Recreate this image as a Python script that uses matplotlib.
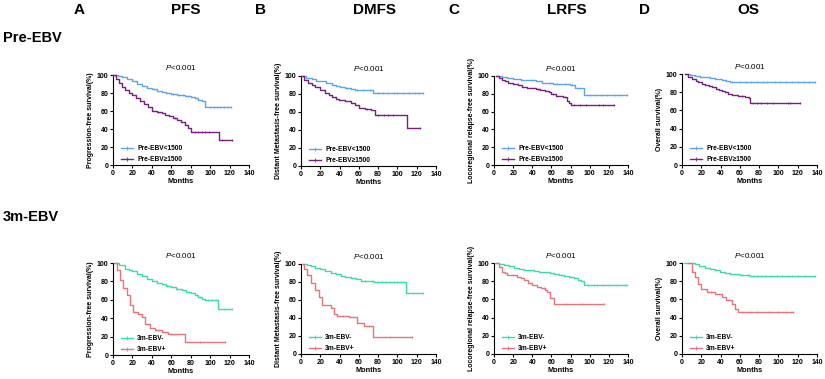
import numpy as np
import matplotlib
matplotlib.use("Agg")
import matplotlib.pyplot as plt
from matplotlib.lines import Line2D

plt.rcParams['font.family'] = ['Liberation Sans', 'DejaVu Sans']
plt.rcParams['mathtext.fontset'] = 'custom'
plt.rcParams['mathtext.it'] = 'Liberation Sans:italic'
plt.rcParams['mathtext.rm'] = 'Liberation Sans'

# ---- data (months, survival %) ----
# Pre-EBV, PFS
pfs_lo_t = [0, 5, 9, 14, 20, 25, 30, 35, 40, 45, 50, 55, 60, 66, 74, 80, 84, 88, 92, 95, 121]
pfs_lo_s = [100, 99, 97.5, 95.5, 93, 90.5, 88, 86, 84, 82.5, 81, 80, 79, 78, 77, 75.5, 74, 72.5, 71, 65, 65]
pfs_lo_c = [42, 55, 62, 68, 72, 77, 86, 100, 104, 107, 110, 114, 118, 121]
pfs_hi_t = [0, 3, 6, 9, 12, 16, 20, 24, 28, 32, 36, 40, 45, 50, 54, 58, 62, 66, 70, 74, 77, 80, 109, 122]
pfs_hi_s = [100, 96, 91, 87, 83, 80, 78, 74, 71, 68, 64, 60, 59, 58, 56, 54, 52, 50, 48, 44, 41, 37, 28, 28]
pfs_hi_c = [46, 64, 84, 88, 92, 95, 99, 112, 122]
# Pre-EBV, DMFS
dm_lo_t = [0, 5, 11, 16, 20, 26, 32, 36, 40, 46, 52, 56, 60, 70, 75, 127]
dm_lo_s = [100, 98, 96.5, 95, 94, 92, 90, 89, 88, 87, 85.5, 85, 84.5, 84, 81.5, 81.5]
dm_lo_c = [48, 58, 64, 72, 80, 85, 90, 96, 100, 106, 112, 118, 122, 127]
dm_hi_t = [0, 3, 7.6, 11, 14.5, 20, 25, 29, 32, 36, 39, 46, 52, 56, 60, 66, 73, 77, 109.6, 123]
dm_hi_s = [100, 96, 92.5, 90, 88, 84.5, 81.5, 79, 77, 75, 73, 72, 70, 68, 65, 63, 62, 57, 42.5, 42.5]
dm_hi_c = [68, 80, 86, 90, 95, 123]
# Pre-EBV, LRFS
lr_lo_t = [2, 8, 14, 20, 28, 36, 44, 50, 56, 62, 70, 79, 84.6, 91.6, 94.4, 139]
lr_lo_s = [100, 98.5, 97.5, 97, 96, 95, 94, 92.5, 92, 91.5, 91, 90, 87, 86, 78.5, 78.5]
lr_lo_c = [40, 58, 66, 74, 82, 100, 106, 112, 118, 126, 132, 139]
lr_hi_t = [2, 5, 8, 12, 15, 20, 25, 29, 34, 39, 44, 48, 53, 57, 60, 65, 69, 72, 76, 78, 80.5, 125]
lr_hi_s = [100, 98, 96, 94, 92.5, 90.5, 89.5, 88, 87, 86, 85, 84, 83.3, 81.5, 79.5, 78, 77, 76, 71.5, 70, 67.5, 67.5]
lr_hi_c = [46, 62, 74, 84, 90, 96, 110, 114, 125]
# Pre-EBV, OS
os_lo_t = [3, 8, 13.5, 19, 24, 29, 34, 41, 46, 50, 57, 138]
os_lo_s = [100, 99, 98, 97, 96.3, 95.5, 94.4, 93, 92, 91.5, 90.7, 90.7]
os_lo_c = [52, 60, 66, 72, 78, 84, 88, 96, 102, 108, 114, 120, 126, 132, 138]
os_hi_t = [3, 6, 10, 14, 17, 21, 24, 28, 31, 35, 38, 41, 45, 48, 52, 55, 58, 65, 69, 71, 122]
os_hi_s = [100, 97, 94, 92, 91, 89, 87.5, 86.5, 85.5, 84, 82.5, 81.5, 80, 78.5, 77, 76.5, 76, 75, 74, 68.5, 68.5]
os_hi_c = [62, 74, 78, 82, 88, 94, 110, 112, 122]

# 3m-EBV, PFS
pfs_neg_t = [2, 6, 12, 16, 20, 25, 29.5, 35, 40, 45, 50, 55, 60, 65, 70.7, 75, 80, 84, 88, 92, 95, 108.4, 122]
pfs_neg_s = [100, 98, 94, 92.5, 91, 88.5, 86, 83, 80, 78.5, 77, 75, 73.5, 72, 70.6, 69, 67, 65, 63, 61, 59.5, 49.5, 49.5]
pfs_neg_c = [56, 66, 78, 86, 90, 98, 102, 106, 114, 122]
pfs_pos_t = [1, 4, 7, 10.6, 14, 17.5, 21, 26, 29.5, 33, 38, 43, 50, 57, 74, 115]
pfs_pos_s = [100, 92.6, 81.6, 72.4, 65, 54, 46.7, 45, 41, 33.8, 29.4, 27, 25, 23, 14.5, 14.5]
pfs_pos_c = [46, 60, 90, 115]
# 3m-EBV, DMFS
dm_neg_t = [2, 6, 10, 15, 20, 25, 31, 36, 41, 46, 51.5, 57, 62, 72, 76, 108.5, 126]
dm_neg_s = [100, 99, 97.8, 96, 94, 92, 90.4, 88.5, 87, 86, 84.5, 83, 81.5, 80.8, 79.7, 68.3, 68.3]
dm_neg_c = [66, 74, 80, 84, 88, 92, 96, 100, 104, 116, 126]
dm_pos_t = [1, 3, 6.5, 10, 15, 18.7, 22, 31, 34, 37.7, 50, 58.4, 65, 75, 115.5]
dm_pos_s = [100, 95, 87.8, 78.6, 71, 63.8, 54.6, 51, 45, 42.4, 40.6, 34, 31.4, 18.8, 18.8]
dm_pos_c = [44, 70, 92, 115.5]
# 3m-EBV, LRFS
lr_neg_t = [1, 5, 10.5, 16, 21, 26, 31, 37, 42, 47, 52, 58, 63, 68, 73, 78, 83.6, 88, 90.6, 94, 138.7]
lr_neg_s = [100, 99, 97.8, 96.3, 95, 93.8, 92.7, 91.8, 91, 90.3, 89.7, 88.8, 87.9, 86.8, 85.7, 84.5, 83, 81.8, 80.6, 76, 76]
lr_neg_c = [70, 80, 98, 104, 108, 114, 120, 128, 138]
lr_pos_t = [2, 5, 8.7, 11, 14, 24.4, 28, 31, 36, 40, 45, 48.8, 53, 55.7, 59, 62.7, 115]
lr_pos_s = [100, 96, 90.5, 88.5, 86.8, 85, 83, 81.3, 78.5, 75.8, 73.5, 72, 70, 68.5, 62, 55, 55]
lr_pos_c = [20, 52, 75, 92, 115]
# 3m-EBV, OS
os_neg_t = [2.4, 13.5, 18, 24, 29, 34, 39, 44.6, 50, 55, 60, 65, 70.5, 138]
os_neg_s = [100, 98.5, 96.8, 94.8, 93.2, 91.8, 90.5, 89.3, 88.3, 87.4, 87, 86.7, 85.5, 85.5]
os_neg_c = [62, 68, 74, 78, 82, 86, 92, 98, 104, 110, 114, 120, 128, 138]
os_pos_t = [6.5, 10, 13.5, 17, 20, 25.6, 34, 41, 46, 51.5, 55, 58.4, 115.5]
os_pos_s = [100, 90, 84.4, 77, 71.5, 67.8, 66, 62.2, 59, 54.8, 49, 46.5, 46.5]
os_pos_c = [30, 62, 70, 78, 90, 100, 108, 115.5]

titles = ['PFS', 'DMFS', 'LRFS', 'OS']
letters = ['A', 'B', 'C', 'D']
ylabels = ['Progression-free survival(%)', 'Distant Metastasis-free survival(%)',
           'Locoregional relapse-free survival(%)', 'Overall survival(%)']
row_names = ['Pre-EBV', '3m-EBV']
pre_labels = ['Pre-EBV<1500', 'Pre-EBV\u22651500']
m3_labels = ['3m-EBV-', '3m-EBV+']

c_blue = '#5fa3e8'
c_purple = '#7a1f7c'
c_green = '#3fdba4'
c_pink = '#e8737d'

top_curves = [
    ((pfs_lo_t, pfs_lo_s, pfs_lo_c), (pfs_hi_t, pfs_hi_s, pfs_hi_c)),
    ((dm_lo_t, dm_lo_s, dm_lo_c), (dm_hi_t, dm_hi_s, dm_hi_c)),
    ((lr_lo_t, lr_lo_s, lr_lo_c), (lr_hi_t, lr_hi_s, lr_hi_c)),
    ((os_lo_t, os_lo_s, os_lo_c), (os_hi_t, os_hi_s, os_hi_c)),
]
bot_curves = [
    ((pfs_neg_t, pfs_neg_s, pfs_neg_c), (pfs_pos_t, pfs_pos_s, pfs_pos_c)),
    ((dm_neg_t, dm_neg_s, dm_neg_c), (dm_pos_t, dm_pos_s, dm_pos_c)),
    ((lr_neg_t, lr_neg_s, lr_neg_c), (lr_pos_t, lr_pos_s, lr_pos_c)),
    ((os_neg_t, os_neg_s, os_neg_c), (os_pos_t, os_pos_s, os_pos_c)),
]

W, H = 825, 379
fig = plt.figure(figsize=(W / 100, H / 100), dpi=100)

# axes boxes in pixels: left, right, top, bottom
lefts = [113, 301, 494, 682]
rights = [249, 436, 628, 817]
tops = [[75, 76, 76, 74], [263, 264, 263, 263]]
bottoms = [[165, 166, 165, 165], [355, 354, 354, 354]]


def km(ax, t, s, cens, color):
    t = np.asarray(t, float)
    s = np.asarray(s, float)
    ax.step(t, s, where='post', color=color, lw=1.0, clip_on=False, zorder=3)
    cens = np.asarray(cens, float)
    idx = np.searchsorted(t, cens, side='right') - 1
    ax.plot(cens, s[idx], ls='none', marker='|', ms=2, mew=0.5, color=color,
            clip_on=False, zorder=3)


for r, (curves, labels, cols) in enumerate([(top_curves, pre_labels, (c_blue, c_purple)),
                                            (bot_curves, m3_labels, (c_green, c_pink))]):
    for c in range(4):
        l, rr = lefts[c], rights[c]
        tp, bt = tops[r][c], bottoms[r][c]
        ax = fig.add_axes([l / W, 1 - bt / H, (rr - l) / W, (bt - tp) / H])
        for (t, s, cens), col in zip(curves[c], cols):
            km(ax, t, s, cens, col)
        ax.set_xlim(0, 140)
        ax.set_ylim(0, 100)
        ax.set_xticks(np.arange(0, 141, 20))
        ax.set_yticks(np.arange(0, 101, 20))
        for sp in ['top', 'right']:
            ax.spines[sp].set_visible(False)
        for sp in ['left', 'bottom']:
            ax.spines[sp].set_linewidth(0.8)
        ax.tick_params(length=2.5, width=0.8, pad=1, labelsize=5)
        for lab in ax.get_xticklabels() + ax.get_yticklabels():
            lab.set_fontweight('bold')
        ax.set_xlabel('Months', fontsize=5.3, fontweight='bold', labelpad=1)
        ax.set_ylabel(ylabels[c], fontsize=5, fontweight='bold', labelpad=1.5)
        ax.text(0.5, 1.08, r'$P$<0.001', transform=ax.transAxes, ha='center',
                va='center', fontsize=5.8)
        handles = [Line2D([], [], color=col, lw=1.0, marker='|', ms=2.5, mew=0.6)
                   for col in cols]
        ax.legend(handles, labels, loc='lower left', bbox_to_anchor=(0.06, 0.02),
                  frameon=False, prop={'size': 4.8, 'weight': 'bold'},
                  handlelength=1.8, handletextpad=0.6, labelspacing=0.6,
                  borderpad=0, borderaxespad=0, numpoints=1)

# column headers
letter_x = [79, 260, 454, 644]
title_x = [186, 374, 567, 748]
for c in range(4):
    fig.text(letter_x[c] / W, 1 - 10 / H, letters[c], ha='center', va='center',
             fontsize=11, fontweight='bold')
    fig.text(title_x[c] / W, 1 - 10 / H, titles[c], ha='center', va='center',
             fontsize=11, fontweight='bold')

# row headers
fig.text(3 / W, 1 - 38 / H, row_names[0], ha='left', va='center', fontsize=10.5, fontweight='bold')
fig.text(3 / W, 1 - 217 / H, row_names[1], ha='left', va='center', fontsize=10.5, fontweight='bold')

fig.savefig('out.png', dpi=100)
